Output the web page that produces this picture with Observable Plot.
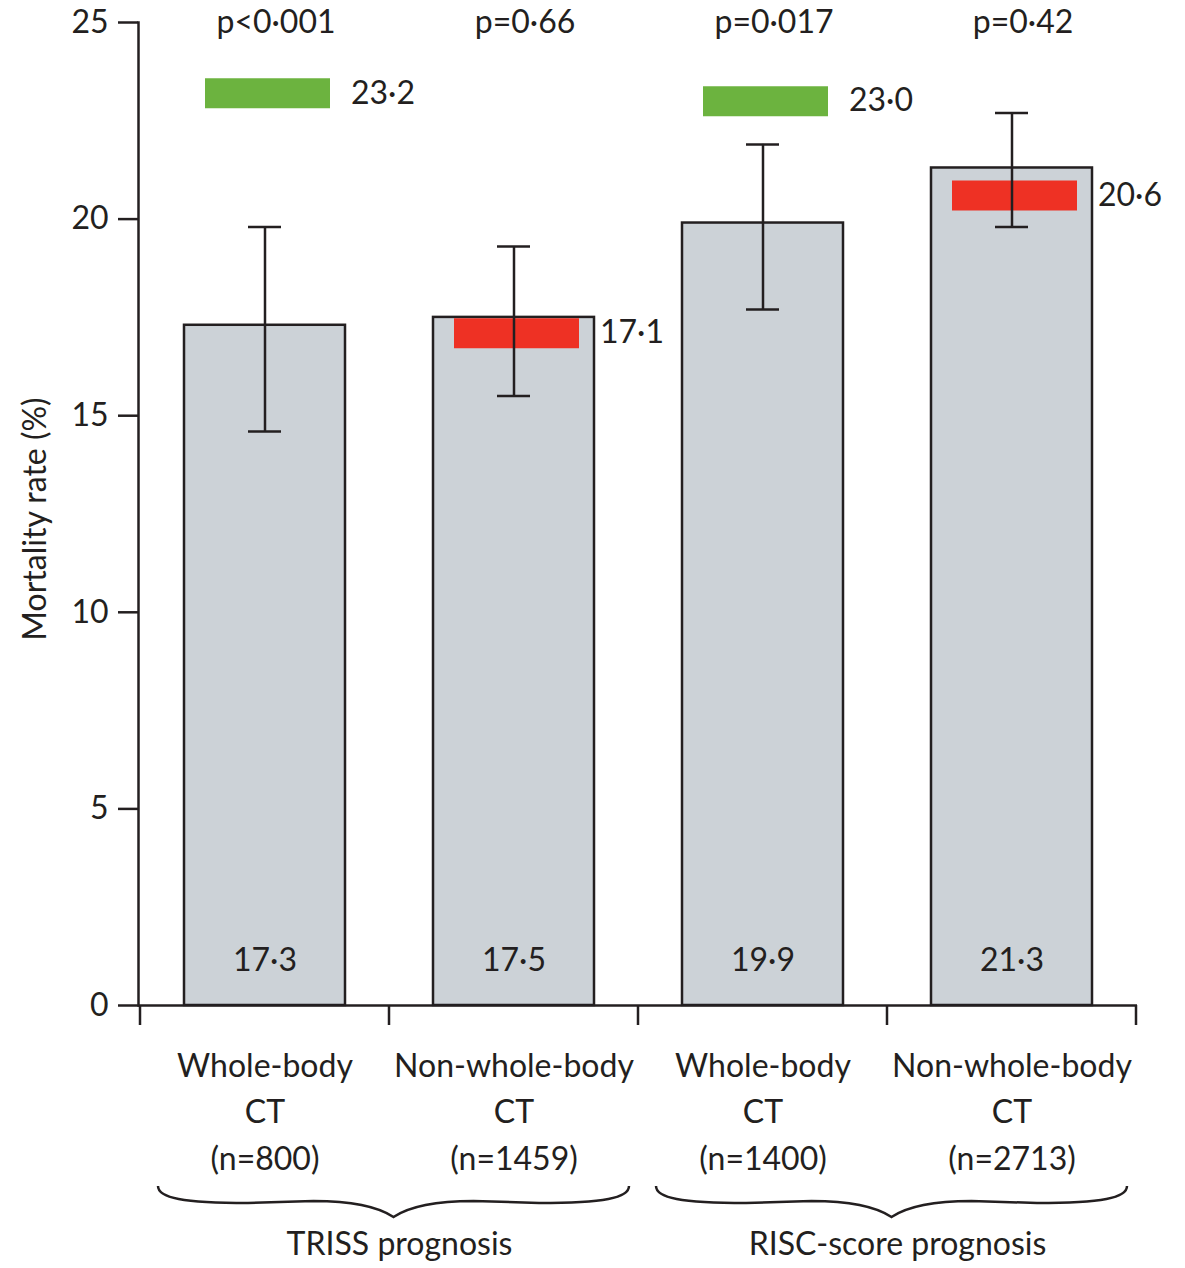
<!DOCTYPE html>
<html>
<head>
<meta charset="utf-8">
<script src="https://cdn.jsdelivr.net/npm/d3@7"></script>
<script src="https://cdn.jsdelivr.net/npm/@observablehq/plot@0.6"></script>
<style>
  html, body { margin: 0; padding: 0; background: #ffffff; }
  #chart svg { display: block; }
</style>
</head>
<body>
<div id="chart"></div>
<script>
// ---- data ----
const categories = ["TRISS whole-body CT", "TRISS non-whole-body CT", "RISC whole-body CT", "RISC non-whole-body CT"];
const categoryLabels = ["Whole-body\nCT\n(n=800)", "Non-whole-body\nCT\n(n=1459)", "Whole-body\nCT\n(n=1400)", "Non-whole-body\nCT\n(n=2713)"];
const groups = ["TRISS prognosis", "RISC-score prognosis"];
const groupOf = [0, 0, 1, 1];
const observed = [17.3, 17.5, 19.9, 21.3];
const ciLow = [14.6, 15.5, 17.7, 19.8];
const ciHigh = [19.8, 19.3, 21.9, 22.7];
const expected = [23.2, 17.1, 23.0, 20.6];
const expectedKind = ["higher", "lower", "higher", "lower"];
const pValues = ["p<0·001", "p=0·66", "p=0·017", "p=0·42"];
const yTicks = [0, 5, 10, 15, 20, 25];
const yLabel = "Mortality rate (%)";

// ---- styling ----
const ink = "#231f20";
const lw = 2.5;
const font = "Lato, 'Open Sans', sans-serif";
const fmt = v => d3.format(".1f")(v).replace(".", "·");

const rows = categories.map((cat, i) => ({
  cat, label: categoryLabels[i], value: observed[i], lo: ciLow[i], hi: ciHigh[i],
  expected: expected[i], kind: expectedKind[i], p: pValues[i], group: groupOf[i]
}));

function decor(index, scales) {
  const x = scales.x, y = scales.y;
  const step = typeof x.step === "function" ? x.step() : x.step;
  const bw = typeof x.bandwidth === "function" ? x.bandwidth() : x.bandwidth;
  const off = (step - bw) / 2;
  const bounds = categories.map(c => x(c) - off);
  bounds.push(bounds[bounds.length - 1] + step);
  const y0 = y(0);
  const g = d3.create("svg:g");
  g.selectAll("line").data(bounds).join("line")
    .attr("x1", d => d).attr("x2", d => d)
    .attr("y1", y0).attr("y2", y0 + 20)
    .attr("stroke", ink).attr("stroke-width", lw);
  groups.forEach((name, gi) => {
    const members = categories.filter((c, i) => groupOf[i] === gi);
    const xa = x(members[0]) - off + 18;
    const xb = x(members[members.length - 1]) - off + step - 9;
    const xm = (xa + xb) / 2;
    const t = y0 + 181;
    const p = d3.path();
    p.moveTo(xa, t);
    p.bezierCurveTo(xa, t + 12, xa + 25, t + 17, xa + 90, t + 17);
    p.lineTo(xm - 80, t + 15);
    p.bezierCurveTo(xm - 40, t + 15, xm - 15, t + 21, xm, t + 31);
    p.bezierCurveTo(xm + 15, t + 21, xm + 40, t + 15, xm + 80, t + 15);
    p.lineTo(xb - 90, t + 17);
    p.bezierCurveTo(xb - 25, t + 17, xb, t + 12, xb, t);
    g.append("path").attr("d", p.toString()).attr("fill", "none")
      .attr("stroke", ink).attr("stroke-width", lw);
    g.append("text").attr("x", xm + 6).attr("y", y0 + 240).attr("dy", "0.32em")
      .attr("text-anchor", "middle").attr("fill", ink).text(name);
  });
  return g.node();
}

const chart = Plot.plot({
  width: 1185,
  height: 1268,
  marginTop: 22,
  marginBottom: 263,
  marginLeft: 138,
  marginRight: 48,
  style: { fontFamily: font, fontSize: "32px", color: ink, background: "#ffffff", overflow: "visible" },
  x: { domain: categories, paddingInner: 0.355, paddingOuter: 0.1775, axis: null },
  y: { domain: [0, 25], axis: null },
  color: { domain: ["higher", "lower"], range: ["#6cb33f", "#ee3124"] },
  marks: [
    Plot.barY(rows, { x: "cat", y: "value", fill: "#ccd2d7", stroke: ink, strokeWidth: lw }),
    Plot.tickY(rows, { x: "cat", y: "expected", stroke: "kind", strokeWidth: 30, insetLeft: 21, insetRight: 15 }),
    Plot.ruleX(rows, { x: "cat", y1: "lo", y2: "hi", stroke: ink, strokeWidth: lw }),
    Plot.tickY(rows, { x: "cat", y: "lo", stroke: ink, strokeWidth: lw, insetLeft: 64, insetRight: 64 }),
    Plot.tickY(rows, { x: "cat", y: "hi", stroke: ink, strokeWidth: lw, insetLeft: 64, insetRight: 64 }),
    Plot.ruleY([0], { stroke: ink, strokeWidth: lw }),
    Plot.frame({ anchor: "left", stroke: ink, strokeWidth: lw }),
    Plot.axisY({ ticks: yTicks, tickSize: 20, tickPadding: 10, label: null, stroke: ink, strokeWidth: lw, fill: ink }),
    Plot.text([yLabel], { text: d => d, frameAnchor: "left", textAnchor: "middle", lineAnchor: "middle", dx: -103, dy: 5, rotate: -90, fill: ink }),
    Plot.text(rows, { x: "cat", y: 0, text: d => fmt(d.value), dy: -45, fill: ink }),
    Plot.text(rows, { x: "cat", y: 25, text: "p", dx: 11, fill: ink }),
    Plot.text(rows, { x: "cat", y: "expected", text: d => fmt(d.expected), dx: 86, textAnchor: "start", fill: ink }),
    Plot.text(rows, { x: "cat", y: 0, text: "label", dy: 103, lineHeight: 1.45, fill: ink }),
    decor
  ]
});
document.getElementById("chart").append(chart);
</script>
</body>
</html>
